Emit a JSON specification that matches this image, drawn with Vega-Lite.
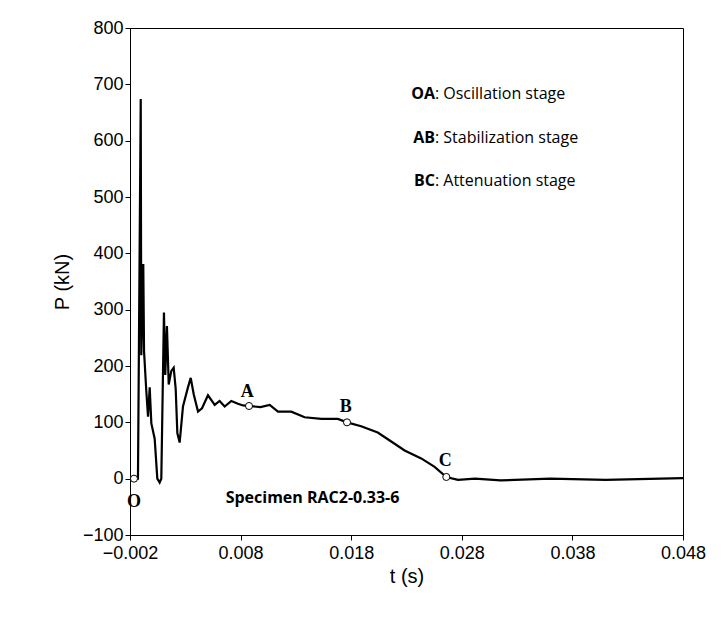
{
  "$schema": "https://vega.github.io/schema/vega-lite/v6.json",
  "width": 553,
  "height": 507,
  "padding": {"left": 52, "top": 19, "right": 20, "bottom": 10},
  "config": {
    "view": {"stroke": "black", "strokeWidth": 1},
    "font": "Liberation Sans",
    "axis": {"grid": false, "labelFlush": false, "domainColor": "black", "tickColor": "black", "labelColor": "black", "titleColor": "black", "labelFontSize": 18, "titleFontSize": 20, "titleFontWeight": "normal", "labelFont": "Liberation Sans", "titleFont": "Liberation Sans"}
  },
  "datasets": {
    "curve": [
      {"t": -0.00164, "P": 0}, {"t": -0.00128, "P": 0}, {"t": -0.00103, "P": 674}, {"t": -0.00098, "P": 219},
      {"t": -0.0008, "P": 381}, {"t": -0.00073, "P": 226}, {"t": -0.00053, "P": 157}, {"t": -0.00037, "P": 110},
      {"t": -0.00022, "P": 162}, {"t": -0.00007, "P": 98}, {"t": 0.00023, "P": 71}, {"t": 0.00047, "P": 0},
      {"t": 0.00068, "P": -7}, {"t": 0.00083, "P": 0}, {"t": 0.00107, "P": 295}, {"t": 0.00119, "P": 184},
      {"t": 0.00134, "P": 271}, {"t": 0.0015, "P": 167}, {"t": 0.00173, "P": 191}, {"t": 0.00195, "P": 197},
      {"t": 0.00213, "P": 160}, {"t": 0.00228, "P": 81}, {"t": 0.00249, "P": 64}, {"t": 0.00279, "P": 128},
      {"t": 0.00324, "P": 162}, {"t": 0.00349, "P": 179}, {"t": 0.00376, "P": 150}, {"t": 0.00415, "P": 119},
      {"t": 0.00451, "P": 125}, {"t": 0.00505, "P": 148}, {"t": 0.00566, "P": 131}, {"t": 0.0061, "P": 138},
      {"t": 0.00656, "P": 128}, {"t": 0.00716, "P": 138}, {"t": 0.00776, "P": 133}, {"t": 0.00822, "P": 130},
      {"t": 0.00876, "P": 129}, {"t": 0.0098, "P": 127}, {"t": 0.01063, "P": 131}, {"t": 0.01138, "P": 119},
      {"t": 0.01258, "P": 119}, {"t": 0.01379, "P": 109}, {"t": 0.0153, "P": 106}, {"t": 0.0168, "P": 106},
      {"t": 0.01762, "P": 100}, {"t": 0.0189, "P": 93}, {"t": 0.0204, "P": 82}, {"t": 0.02162, "P": 66},
      {"t": 0.02283, "P": 50}, {"t": 0.02433, "P": 36}, {"t": 0.02554, "P": 21}, {"t": 0.0266, "P": 3},
      {"t": 0.02765, "P": -2}, {"t": 0.0292, "P": 0}, {"t": 0.0315, "P": -3}, {"t": 0.036, "P": 0},
      {"t": 0.041, "P": -2}, {"t": 0.048, "P": 1}
    ],
    "pts": [
      {"t": -0.00164, "P": 0, "lab": "O", "lt": -0.00164, "lp": -42},
      {"t": 0.00876, "P": 129, "lab": "A", "lt": 0.0086, "lp": 153},
      {"t": 0.01762, "P": 100, "lab": "B", "lt": 0.0175, "lp": 128},
      {"t": 0.0266, "P": 3, "lab": "C", "lt": 0.0265, "lp": 31}
    ],
    "legend": [
      {"b": "OA", "r": ": Oscillation stage", "P": 683},
      {"b": "AB", "r": ": Stabilization stage", "P": 605},
      {"b": "BC", "r": ": Attenuation stage", "P": 529}
    ]
  },
  "layer": [
    {
      "data": {"name": "curve"},
      "mark": {"type": "line", "color": "black", "strokeWidth": 2.2},
      "encoding": {
        "x": {"field": "t", "type": "quantitative", "title": "t (s)", "scale": {"domain": [-0.002, 0.048], "nice": false}, "axis": {"values": [-0.002, 0.008, 0.018, 0.028, 0.038, 0.048], "format": ".3f", "labelPadding": 4}},
        "y": {"field": "P", "type": "quantitative", "title": "P (kN)", "scale": {"domain": [-100, 800], "nice": false}, "axis": {"values": [-100, 0, 100, 200, 300, 400, 500, 600, 700, 800], "titlePadding": 10}}
      }
    },
    {
      "data": {"name": "pts"},
      "mark": {"type": "point", "filled": true, "fill": "white", "stroke": "black", "strokeWidth": 1, "size": 50, "opacity": 1},
      "encoding": {"x": {"field": "t", "type": "quantitative"}, "y": {"field": "P", "type": "quantitative"}}
    },
    {
      "data": {"name": "pts"},
      "mark": {"type": "text", "font": "Liberation Serif", "fontWeight": "bold", "fontSize": 18, "color": "black"},
      "encoding": {"x": {"field": "lt", "type": "quantitative"}, "y": {"field": "lp", "type": "quantitative"}, "text": {"field": "lab"}}
    },
    {
      "data": {"values": [{"t": 0.0145, "P": -35, "s": "Specimen RAC2-0.33-6"}]},
      "mark": {"type": "text", "font": "Open Sans", "fontWeight": "bold", "fontSize": 16, "color": "black"},
      "encoding": {"x": {"field": "t", "type": "quantitative"}, "y": {"field": "P", "type": "quantitative"}, "text": {"field": "s"}}
    },
    {
      "data": {"name": "legend"},
      "mark": {"type": "text", "align": "right", "font": "Open Sans", "fontWeight": "bold", "fontSize": 16, "color": "black"},
      "encoding": {"x": {"datum": 0.02557, "type": "quantitative"}, "y": {"field": "P", "type": "quantitative"}, "text": {"field": "b"}}
    },
    {
      "data": {"name": "legend"},
      "mark": {"type": "text", "align": "left", "font": "Open Sans", "fontSize": 16, "color": "black"},
      "encoding": {"x": {"datum": 0.02557, "type": "quantitative"}, "y": {"field": "P", "type": "quantitative"}, "text": {"field": "r"}}
    }
  ]
}
